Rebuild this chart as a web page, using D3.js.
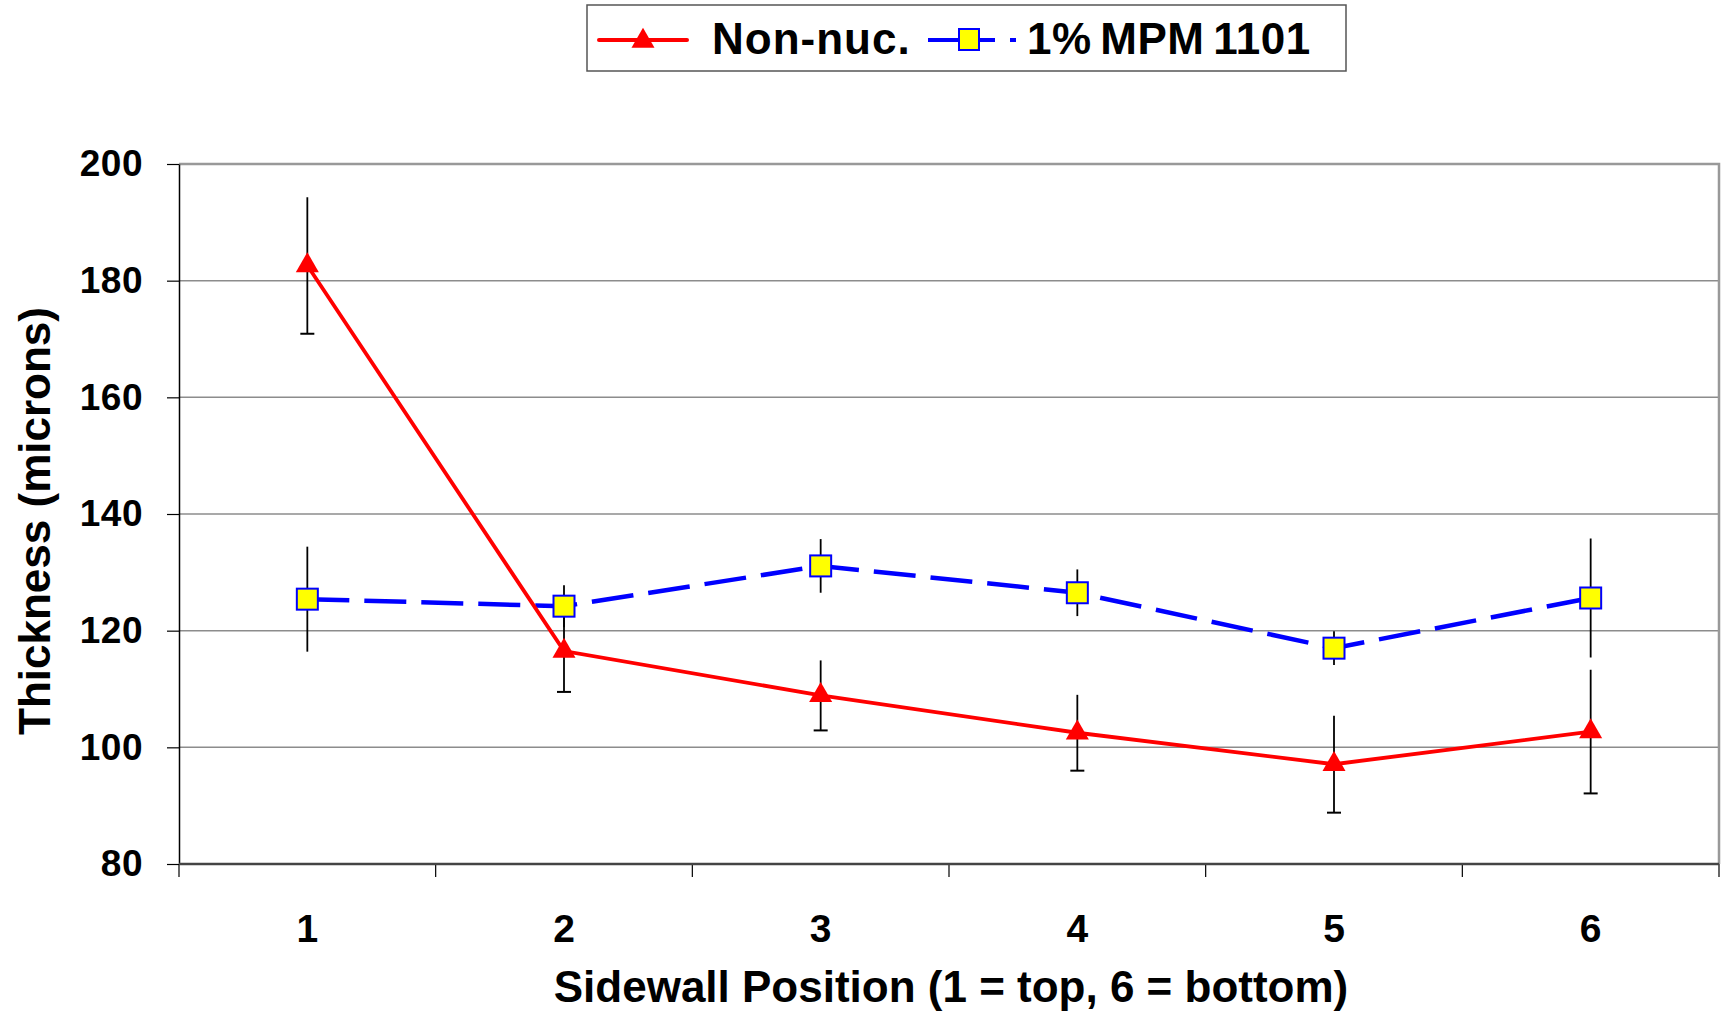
<!DOCTYPE html>
<html>
<head>
<meta charset="utf-8">
<script src="https://cdn.jsdelivr.net/npm/d3@7"></script>
<style>
  body { margin: 0; background: #fff; }
  svg { display: block; font-family: "Liberation Sans", Arial, sans-serif; font-weight: bold; }
</style>
</head>
<body>
<svg id="chart" width="1722" height="1016"></svg>
<script>
// values
const positions = ["1", "2", "3", "4", "5", "6"]
const nonNuc = [182.6, 116.5, 108.9, 102.5, 97.1, 102.7]
const nonNucErr = [11.7, 7.0, 6.0, 6.5, 8.3, 10.6]
const mpm = [125.4, 124.2, 131.1, 126.5, 117.0, 125.6]
const mpmErr = [9.0, 3.6, 4.6, 4.0, 2.9, 10.2]
const yTicks = [80, 100, 120, 140, 160, 180, 200]

const svg = d3.select("#chart")

let plotLeft = 179
let plotRight = 1719
let plotTop = 164
let plotBottom = 864

const x = d3.scaleBand().domain(positions).range([plotLeft, plotRight])
const y = d3.scaleLinear().domain([80, 200]).range([plotBottom, plotTop])
const cx = d => x(d) + x.bandwidth() / 2

// gridlines
svg.append("g")
    .selectAll("line")
    .data(yTicks.slice(1, -1))
    .join("line")
    .attr("x1", plotLeft).attr("x2", plotRight)
    .attr("y1", d => y(d)).attr("y2", d => y(d))
    .attr("stroke", "#8c8c8c")
    .attr("stroke-width", 1.5)

// plot border top / right
svg.append("path")
    .attr("d", `M${plotLeft},${y(200)}H${plotRight}V${plotBottom}`)
    .attr("fill", "none")
    .attr("stroke", "#999")
    .attr("stroke-width", 2.5)

// y axis
const yAxis = svg.append("g")
    .attr("transform", `translate(${plotLeft},0)`)
    .call(d3.axisLeft(y).tickValues(yTicks).tickSize(12).tickSizeOuter(0).tickPadding(24))
yAxis.select(".domain").attr("stroke", "#000").attr("stroke-width", 1.5)
yAxis.selectAll(".tick line").attr("stroke", "#000").attr("stroke-width", 1.2)
yAxis.selectAll(".tick text")
    .attr("font-size", 37)
    .attr("font-family", "Liberation Sans, Arial, sans-serif")
    .attr("font-weight", "bold")
    .attr("letter-spacing", 0.5)
    .attr("fill", "#000")

// x axis: tick marks at band edges, labels at centres
const edges = positions.map(p => x(p)).concat([x.range()[1]])
svg.append("g")
    .selectAll("line")
    .data(edges)
    .join("line")
    .attr("x1", d => d).attr("x2", d => d)
    .attr("y1", plotBottom).attr("y2", plotBottom + 13)
    .attr("stroke", "#000")
    .attr("stroke-width", 1.2)
svg.append("line")
    .attr("x1", plotLeft).attr("x2", plotRight)
    .attr("y1", plotBottom).attr("y2", plotBottom)
    .attr("stroke", "#444")
    .attr("stroke-width", 2.5)
svg.append("g")
    .selectAll("text")
    .data(positions)
    .join("text")
    .attr("x", d => cx(d))
    .attr("y", 942)
    .attr("text-anchor", "middle")
    .attr("font-size", 39)
    .text(d => d)

// axis titles
svg.append("text")
    .attr("x", 951).attr("y", 1002)
    .attr("text-anchor", "middle")
    .attr("font-size", 44)
    .text("Sidewall Position (1 = top, 6 = bottom)")
svg.append("text")
    .attr("transform", "translate(50,521) rotate(-90)")
    .attr("text-anchor", "middle")
    .attr("font-size", 44)
    .text("Thickness (microns)")

// error bars
function errorBars(vals, errs, cap) {
    const g = svg.append("g")
    g.selectAll("line.bar")
        .data(positions)
        .join("line")
        .attr("class", "bar")
        .attr("x1", d => cx(d)).attr("x2", d => cx(d))
        .attr("y1", (d, i) => y(vals[i] + errs[i]))
        .attr("y2", (d, i) => y(vals[i] - errs[i]))
        .attr("stroke", "#000")
        .attr("stroke-width", 1.8)
    if (cap) {
        g.selectAll("line.cap")
            .data(positions)
            .join("line")
            .attr("class", "cap")
            .attr("x1", d => cx(d) - 7).attr("x2", d => cx(d) + 7)
            .attr("y1", (d, i) => y(vals[i] - errs[i]))
            .attr("y2", (d, i) => y(vals[i] - errs[i]))
            .attr("stroke", "#000")
            .attr("stroke-width", 2)
    }
}
errorBars(mpm, mpmErr, false)
errorBars(nonNuc, nonNucErr, true)

const line = vals => d3.line().x((d, i) => cx(d)).y((d, i) => y(vals[i]))(positions)

svg.append("path")
    .attr("d", line(mpm))
    .attr("fill", "none")
    .attr("stroke", "#0000ff")
    .attr("stroke-width", 4.5)
    .attr("stroke-dasharray", "42,15")

svg.append("path")
    .attr("d", line(nonNuc))
    .attr("fill", "none")
    .attr("stroke", "#ff0000")
    .attr("stroke-width", 3.8)

const tri = d3.symbol().type(d3.symbolTriangle).size(230)

svg.append("g")
    .selectAll("path")
    .data(positions)
    .join("path")
    .attr("d", tri)
    .attr("transform", (d, i) => `translate(${cx(d)},${y(nonNuc[i])})`)
    .attr("fill", "#ff0000")

svg.append("g")
    .selectAll("rect")
    .data(positions)
    .join("rect")
    .attr("x", d => cx(d) - 10.5).attr("y", (d, i) => y(mpm[i]) - 10.5)
    .attr("width", 21).attr("height", 21)
    .attr("fill", "#ffff00")
    .attr("stroke", "#0000ff")
    .attr("stroke-width", 2)

// legend
const legend = svg.append("g")
legend.append("rect")
    .attr("x", 587).attr("y", 5)
    .attr("width", 759).attr("height", 66)
    .attr("fill", "#fff")
    .attr("stroke", "#555")
    .attr("stroke-width", 1.5)
legend.append("line")
    .attr("x1", 599).attr("x2", 687).attr("y1", 40).attr("y2", 40)
    .attr("stroke", "#ff0000").attr("stroke-width", 4).attr("stroke-linecap", "round")
legend.append("path")
    .attr("d", tri)
    .attr("transform", "translate(643,41)")
    .attr("fill", "#ff0000")
legend.append("text")
    .attr("x", 712).attr("y", 54)
    .attr("font-size", 44)
    .attr("letter-spacing", 1)
    .text("Non-nuc.")
legend.append("line")
    .attr("x1", 928).attr("x2", 1016).attr("y1", 40).attr("y2", 40)
    .attr("stroke", "#0000ff").attr("stroke-width", 4)
    .attr("stroke-dasharray", "67,15")
legend.append("rect")
    .attr("x", 959).attr("y", 29)
    .attr("width", 20).attr("height", 21)
    .attr("fill", "#ffff00")
    .attr("stroke", "#0000ff")
    .attr("stroke-width", 2)
legend.append("text")
    .attr("x", 1027).attr("y", 54)
    .attr("font-size", 44)
    .attr("letter-spacing", 0.5)
    .attr("word-spacing", -4)
    .text("1% MPM 1101")
</script>
</body>
</html>
